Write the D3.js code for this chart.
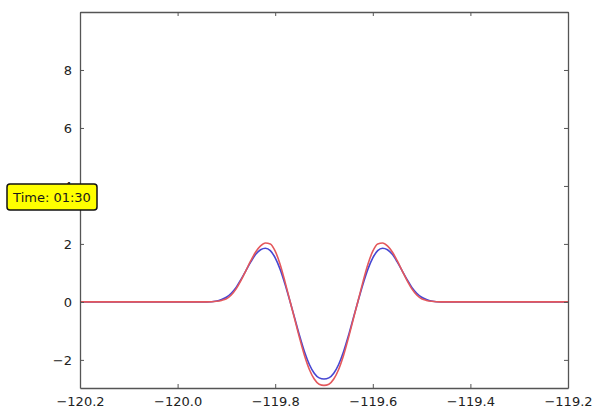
<!DOCTYPE html>
<html>
<head>
<meta charset="utf-8">
<script src="https://cdn.jsdelivr.net/npm/d3@7"></script>
<style>
  body { margin: 0; background: #fff; }
  text { font-family: "DejaVu Sans", sans-serif; }
</style>
</head>
<body>
<div id="chart"></div>
<script>
// Data
const xValues = [-120.2, -119.94, -119.92, -119.91, -119.90, -119.89, -119.88, -119.87, -119.86, -119.85,
  -119.84, -119.83, -119.82, -119.81, -119.80, -119.79, -119.78, -119.77, -119.76, -119.75,
  -119.74, -119.73, -119.72, -119.71, -119.70, -119.69, -119.68, -119.67, -119.66, -119.65,
  -119.64, -119.63, -119.62, -119.61, -119.60, -119.59, -119.58, -119.57, -119.56, -119.55,
  -119.54, -119.53, -119.52, -119.51, -119.50, -119.49, -119.48, -119.46, -119.2];

const blueValues = [0, 0, 0.03, 0.08, 0.16, 0.3, 0.5, 0.78, 1.08, 1.38,
  1.64, 1.8, 1.85, 1.77, 1.52, 1.13, 0.62, 0.04, -0.56, -1.17,
  -1.72, -2.16, -2.46, -2.62, -2.66, -2.62, -2.46, -2.16, -1.72, -1.17,
  -0.56, 0.04, 0.62, 1.13, 1.52, 1.77, 1.85, 1.8, 1.64, 1.38,
  1.08, 0.78, 0.5, 0.3, 0.16, 0.08, 0.03, 0, 0];

const redValues = [0, 0, 0.02, 0.05, 0.11, 0.24, 0.45, 0.74, 1.08, 1.42,
  1.72, 1.93, 2.03, 2.0, 1.75, 1.3, 0.7, 0.05, -0.6, -1.25,
  -1.85, -2.33, -2.66, -2.84, -2.88, -2.84, -2.66, -2.33, -1.85, -1.25,
  -0.6, 0.05, 0.7, 1.3, 1.75, 2.0, 2.03, 1.93, 1.72, 1.42,
  1.08, 0.74, 0.45, 0.24, 0.11, 0.05, 0.02, 0, 0];

const xTicks = [-120.2, -120.0, -119.8, -119.6, -119.4, -119.2];
const yTicks = [-2, 0, 2, 4, 6, 8];
const timeLabel = "Time: 01:30";

const W = 595, H = 413;
const margin = { left: 80, right: 27, top: 12, bottom: 25 };

const svg = d3.select("#chart").append("svg")
  .attr("width", W)
  .attr("height", H);

svg.append("rect").attr("width", W).attr("height", H).attr("fill", "#fff");

const x = d3.scaleLinear().domain([-120.2, -119.2]).range([margin.left, W - margin.right]);
const y = d3.scaleLinear().domain([-2.97, 10]).range([H - margin.bottom, margin.top]);

const fmt = d => d3.format(".1f")(d).replace("-", "\u2212");
const fmtY = d => String(d).replace("-", "\u2212");

// lines
const line = (vals) => d3.line()
  .x((d, i) => x(xValues[i]))
  .y(d => y(d))
  .curve(d3.curveMonotoneX)(vals);

const plot = svg.append("g");
plot.append("path").attr("d", line(blueValues))
  .attr("fill", "none").attr("stroke", "#4646d2").attr("stroke-width", 1.6);
plot.append("path").attr("d", line(redValues))
  .attr("fill", "none").attr("stroke", "#e4585c").attr("stroke-width", 1.6);

// axes, matplotlib style: inward ticks on all four sides
const axBottom = svg.append("g").attr("transform", `translate(0,${H - margin.bottom})`)
  .call(d3.axisBottom(x).tickValues(xTicks).tickSizeInner(-4).tickSizeOuter(0).tickPadding(9).tickFormat(fmt));
const axTop = svg.append("g").attr("transform", `translate(0,${margin.top})`)
  .call(d3.axisTop(x).tickValues(xTicks).tickSizeInner(-4).tickSizeOuter(0).tickFormat(""));
const axLeft = svg.append("g").attr("transform", `translate(${margin.left},0)`)
  .call(d3.axisLeft(y).tickValues(yTicks).tickSizeInner(-4).tickSizeOuter(0).tickPadding(8).tickFormat(fmtY));
const axRight = svg.append("g").attr("transform", `translate(${W - margin.right},0)`)
  .call(d3.axisRight(y).tickValues(yTicks).tickSizeInner(-4).tickSizeOuter(0).tickFormat(""));

[axBottom, axTop, axLeft, axRight].forEach(g => {
  g.select(".domain").attr("stroke", "#555").attr("stroke-width", 1.3);
  g.selectAll(".tick line").attr("stroke", "#555");
  g.selectAll("text").attr("font-size", 13).attr("fill", "#222")
    .attr("font-family", "DejaVu Sans, sans-serif");
});

// time label box (sits over the "4" tick label, as in the original)
const box = svg.append("g").attr("transform", "translate(7,184)");
box.append("rect")
  .attr("width", 90).attr("height", 26).attr("rx", 3)
  .attr("fill", "#ffff00").attr("stroke", "#111").attr("stroke-width", 1.5);
box.append("text")
  .attr("x", 45).attr("y", 13).attr("dy", "0.36em")
  .attr("text-anchor", "middle")
  .attr("font-size", 13).attr("fill", "#1a1a1a")
  .text(timeLabel);
</script>
</body>
</html>
